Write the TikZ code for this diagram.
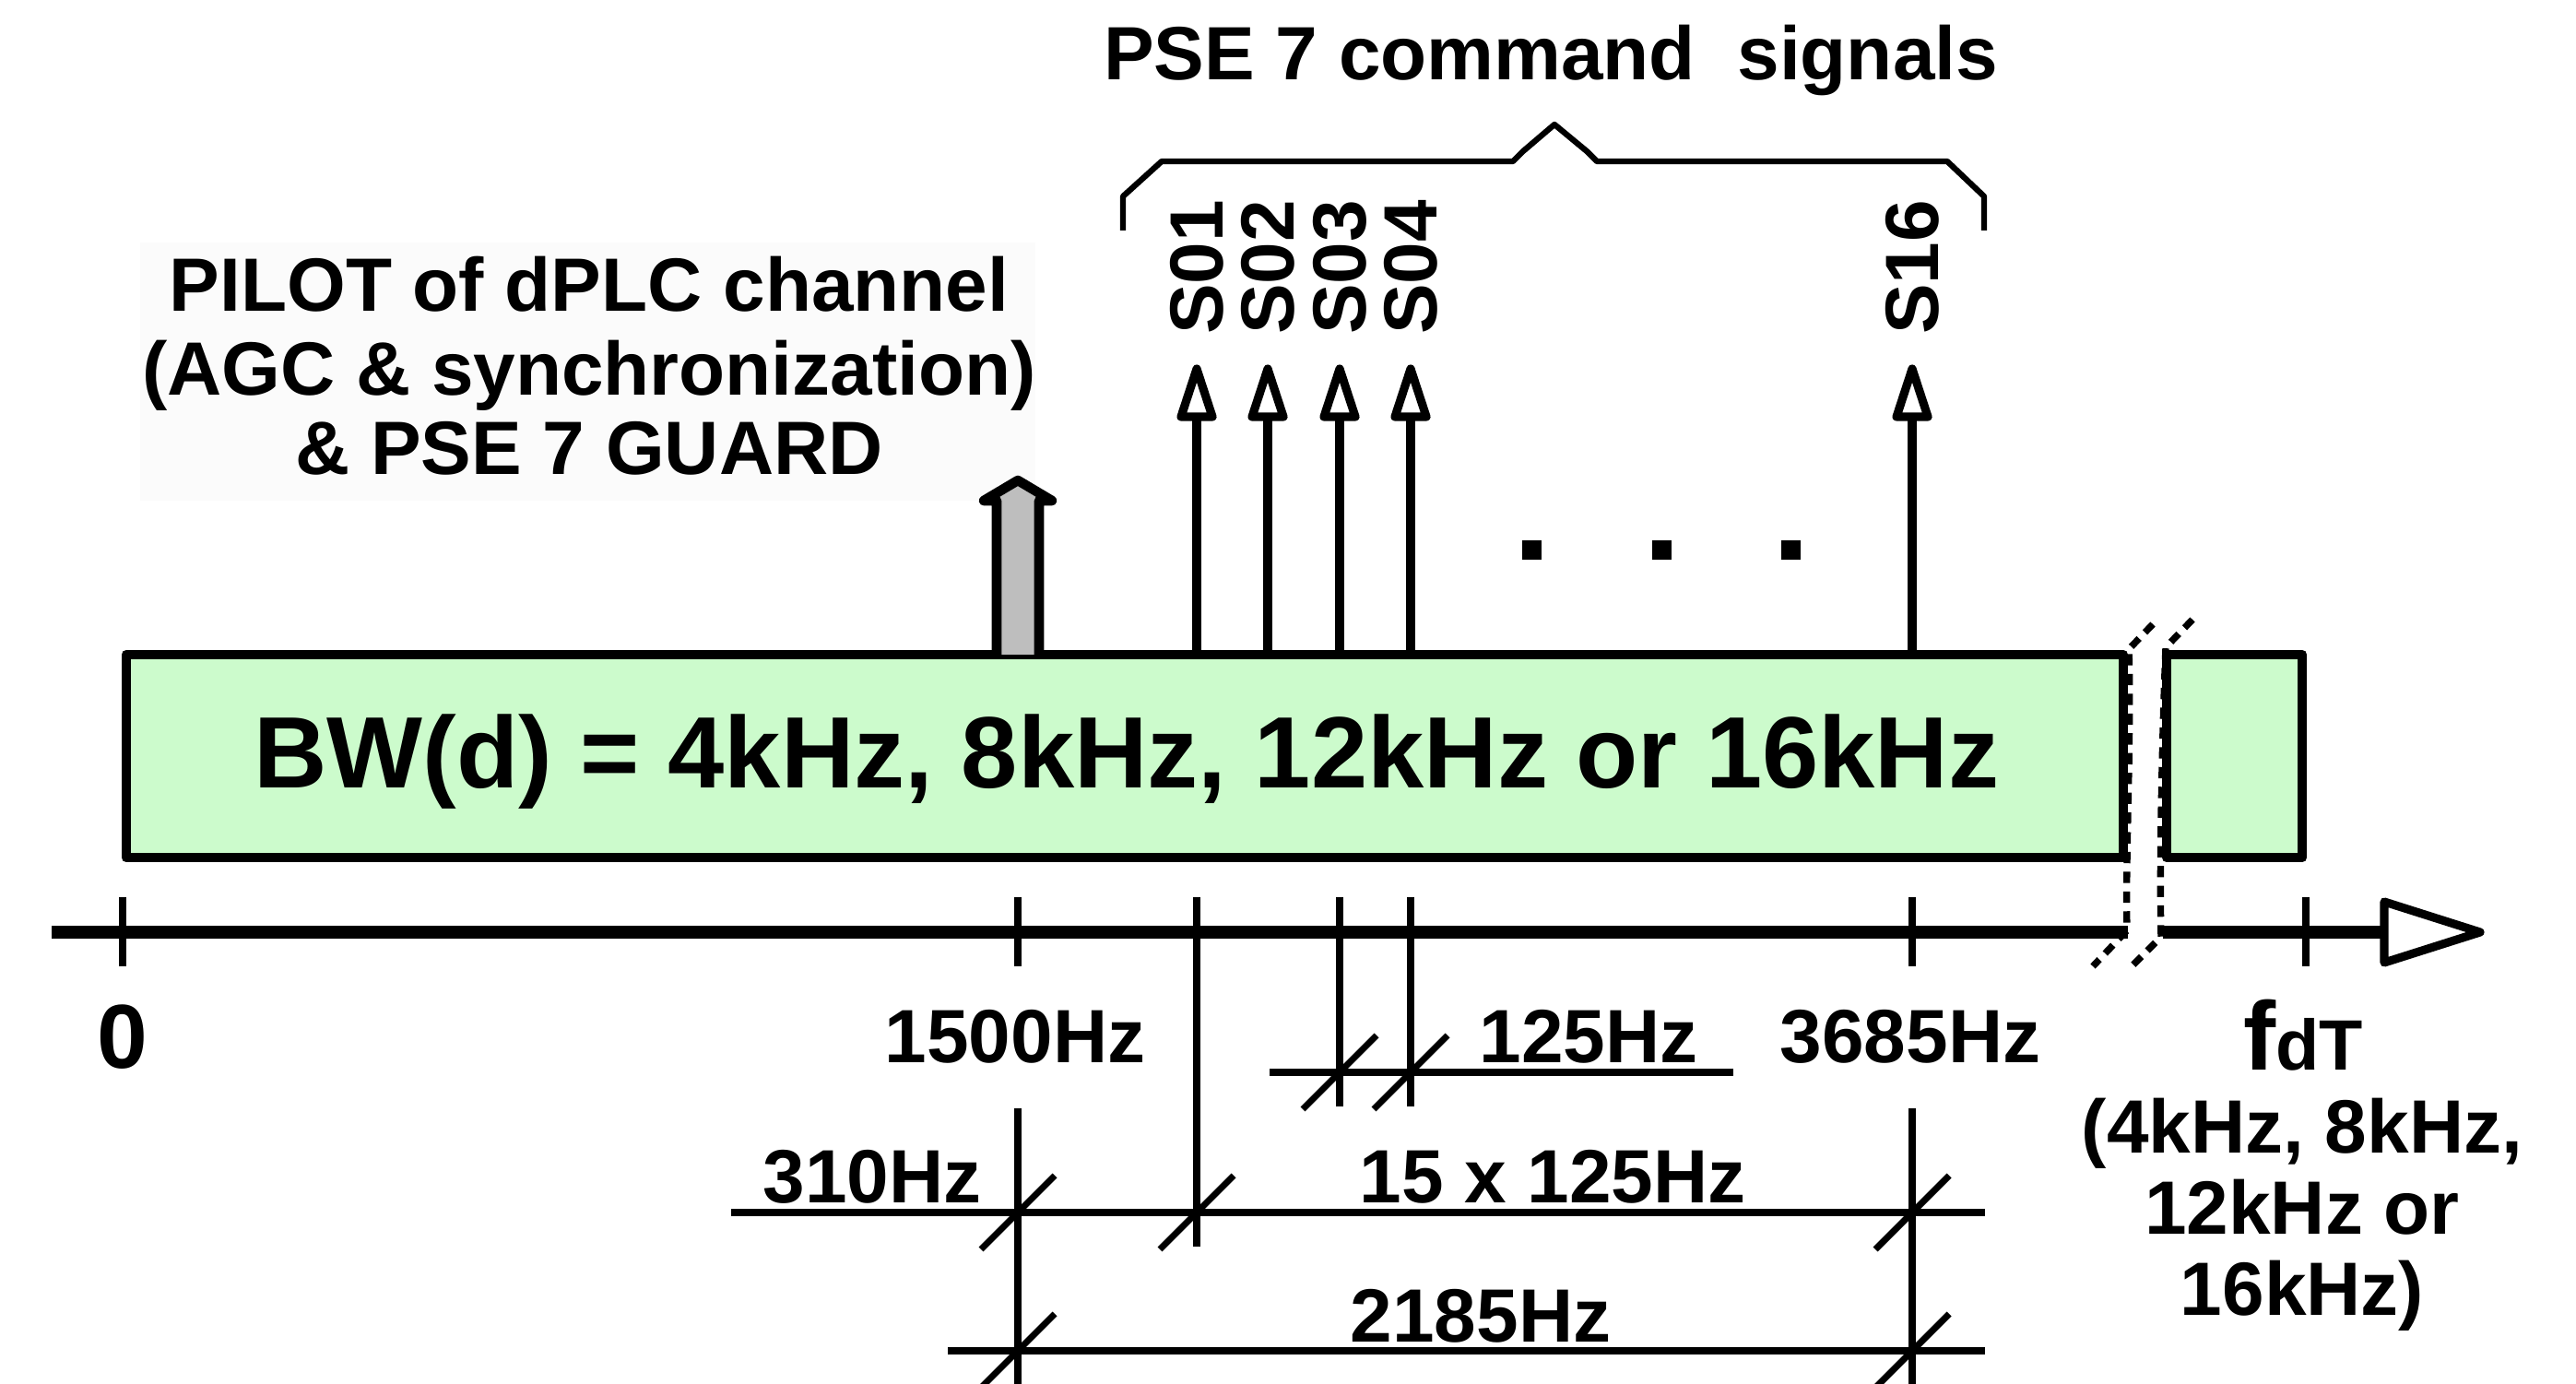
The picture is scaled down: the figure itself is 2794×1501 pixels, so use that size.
\documentclass[tikz,border=0pt]{standalone}
\usepackage{fontspec}
\setmainfont{Liberation Sans}
\usetikzlibrary{arrows.meta}
\definecolor{bandgreen}{RGB}{204,251,204}
\definecolor{pilotgray}{RGB}{190,190,190}
\definecolor{haze}{RGB}{251,251,251}
\tikzset{
  lbl/.style={font=\fontsize{23.3}{26}\selectfont\bfseries, inner sep=0pt, anchor=base},
  band/.style={draw=black, fill=bandgreen, line width=3.1pt, line join=round},
  sigline/.style={line width=3pt},
  openhead/.style={line width=2.6pt, fill=white, line join=round},
  tickline/.style={line width=2.1pt},
  dimline/.style={line width=2.3pt},
  slashline/.style={line width=2pt},
  breakline/.style={line width=2.1pt, dash pattern=on 3.5pt off 2.6pt},
  axisline/.style={line width=4.2pt},
  braceline/.style={line width=1.8pt, line join=round},
}
\begin{document}
\begin{tikzpicture}[x=0.01cm, y=-0.01cm]
\useasboundingbox (0,0) rectangle (2794,1501);
\fill[white] (0,0) rectangle (2794,1501);

% pilot text background
\fill[haze] (152,263) rectangle (1123,543);
\node[lbl] (pilot1) at (639,338) {PILOT of dPLC channel};
\node[lbl] (pilot2) at (639,429) {(AGC \& synchronization)};
\node[lbl] (pilot3) at (639,515) {\& PSE 7 GUARD};

% title and brace
\node[lbl] (title) at (1682,87) {PSE 7 command\ \ signals};
\draw[braceline] (1218,250) -- (1218,213) -- (1260,175) -- (1641,175) -- (1652,164)
  -- (1686,135) -- (1721,164) -- (1732,175) -- (2112,175) -- (2152,213) -- (2152,250);

% bands
\draw[band] (137,710) rectangle (2303,930);
\draw[band] (2350,710) rectangle (2497,930);
\node[font=\fontsize{31.3}{33}\selectfont\bfseries, inner sep=0pt, anchor=base] (bw) at (1222,855)
  {BW(d) = 4kHz, 8kHz, 12kHz or 16kHz};

% pilot arrow
\draw[line width=3pt, line join=round, fill=pilotgray]
  (1081,710) -- (1081,543) -- (1067,543) -- (1104,521) -- (1141,543) -- (1127,543) -- (1127,710);

% signal arrows and labels
\foreach \x/\n in {1298/S01,1375/S02,1453/S03,1530/S04,2074/S16} {
  \coordinate (base\n) at (\x,710);
  \coordinate (tip\n) at (\x,452);
  \draw[sigline] (base\n) -- (tip\n);
  \draw[openhead] (\x-17,452) -- (\x,400) -- (\x+17,452) -- cycle;
  \node[lbl, anchor=center, rotate=90] (lab\n) at (\x,290) {\n};
}

% dots
\foreach \x in {1661,1802,1942} {
  \fill (\x-10.5,586.5) rectangle (\x+10.5,607.5);
}

% axis
\coordinate (axL) at (56,1011);
\coordinate (axB1) at (2308,1011);
\coordinate (axB2) at (2346,1011);
\coordinate (axR) at (2586,1011);
\draw[axisline] (axL) -- (axB1);
\draw[axisline] (axB2) -- (axR);
\draw[openhead] (2586,978) -- (2690,1011) -- (2586,1044) -- cycle;

% break marks
\draw[breakline] (2335,677) -- (2309,704) .. controls (2312,800) and (2305,930) .. (2307,1009) -- (2270,1048);
\draw[breakline] (2378,672) -- (2349,702) .. controls (2345,800) and (2342,950) .. (2344,1016) -- (2310,1050);

% axis ticks
\foreach \x in {133,1104,2074,2501} {
  \draw[tickline] (\x,973) -- (\x,1048);
}
% extension lines
\draw[tickline] (1298,973) -- (1298,1352);
\draw[tickline] (1453,973) -- (1453,1200);
\draw[tickline] (1530,973) -- (1530,1200);
\draw[tickline] (1104,1202) -- (1104,1530);
\draw[tickline] (2074,1202) -- (2074,1530);

% dimension lines
\draw[dimline] (1377,1163) -- (1880,1163);
\draw[dimline] (793,1315) -- (2153,1315);
\draw[dimline] (1028,1465) -- (2153,1465);
\foreach \x/\y in {1453/1163,1530/1163,1104/1315,1298/1315,2074/1315,1104/1465,2074/1465} {
  \draw[slashline] (\x-40,\y+40) -- (\x+40,\y-40);
}

% axis labels
\node[font=\fontsize{28}{30}\selectfont\bfseries, inner sep=0pt, anchor=base] (zero) at (133,1158) {0};
\node[lbl] (f1500) at (1101,1152) {1500Hz};
\node[lbl] (f125) at (1723,1152) {125Hz};
\node[lbl] (f3685) at (2072,1152) {3685Hz};
\node[lbl] (d310) at (946,1304) {310Hz};
\node[lbl] (d15) at (1684,1304) {15 x 125Hz};
\node[lbl] (d2185) at (1606,1455) {2185Hz};
\node[inner sep=0pt, anchor=base] (fdt) at (2498,1160)
  {\bfseries\fontsize{30}{30}\selectfont f\fontsize{22}{22}\selectfont dT};
\node[lbl] (fdt1) at (2497,1250) {(4kHz, 8kHz,};
\node[lbl] (fdt2) at (2497,1338) {12kHz or};
\node[lbl] (fdt3) at (2497,1426) {16kHz)};
\end{tikzpicture}
\end{document}
